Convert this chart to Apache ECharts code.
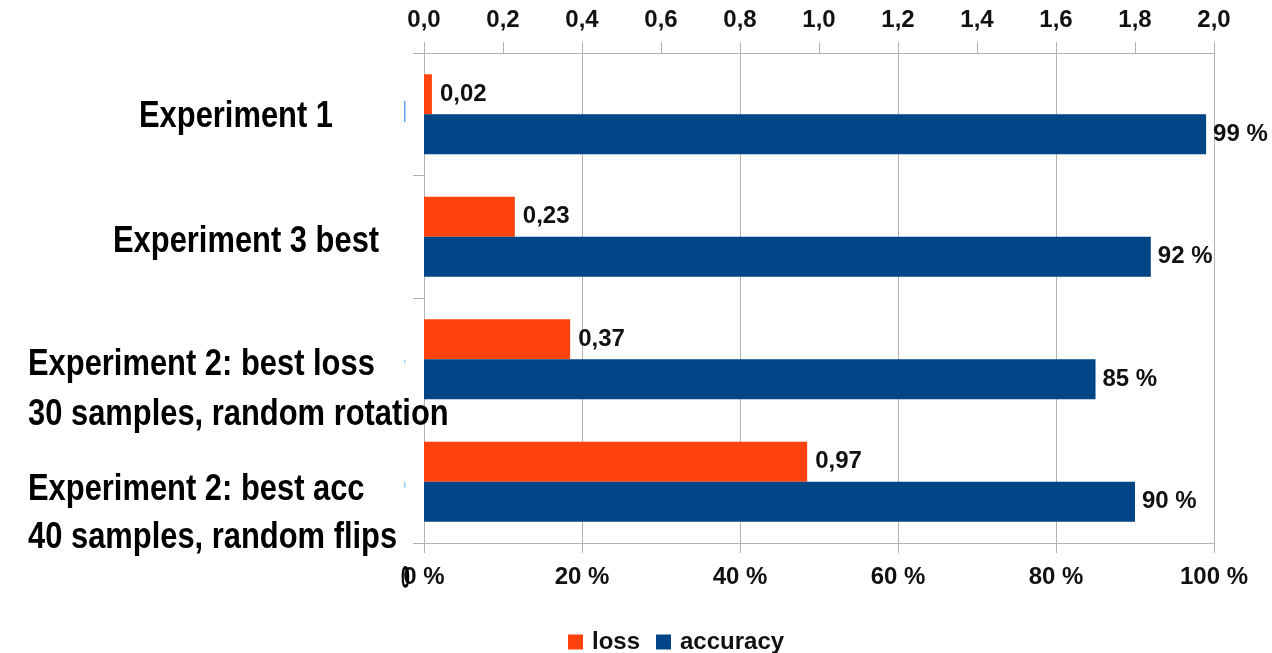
<!DOCTYPE html>
<html>
<head>
<meta charset="utf-8">
<title>Experiments: loss and accuracy</title>
<script src="https://cdn.jsdelivr.net/npm/echarts@6/dist/echarts.min.js"></script>
<style>
  html, body { margin: 0; padding: 0; background: #ffffff; }
  #chart { width: 1272px; height: 653px; }
</style>
</head>
<body>
<div id="chart"></div>
<script>
// Experiments, listed top to bottom
const categories = [
  'Experiment 1',
  'Experiment 3 best',
  'Experiment 2: best loss\n30 samples, random rotation',
  'Experiment 2: best acc\n40 samples, random flips'
];
// Final loss per experiment (top axis, 0..2)
const lossValues = [0.02, 0.23, 0.37, 0.97];
// Accuracy per experiment in percent (bottom axis, 0..100)
const accuracyValues = [99, 92, 85, 90];
const seriesNames = ['loss', 'accuracy'];

const LOSS_COLOR = '#ff420e';
const ACC_COLOR = '#004586';
const GRID_GRAY = '#b3b3b3';
const TEXT = '#111111';
const SANS = '"Liberation Sans", Arial, sans-serif';
// no condensed face installed: squeeze the regular bold one horizontally
const CAPTION_FONT = 'bold 37px "Liberation Sans", Arial, sans-serif';
const CAPTION_SQUEEZE = 0.835;

const comma = (v, d) => v.toFixed(d).replace('.', ',');

// Category captions sit to the left of the plot, each line placed by hand
const captionSpots = [
  { x: 139, y: [117] },
  { x: 113, y: [242] },
  { x: 28,  y: [365, 415] },
  { x: 28,  y: [490, 538] }
];
const captionGraphics = [];
categories.forEach((name, i) => {
  name.split('\n').forEach((line, j) => {
    captionGraphics.push({
      type: 'text',
      x: captionSpots[i].x,
      y: captionSpots[i].y[j],
      scaleX: CAPTION_SQUEEZE,
      z: 100,
      style: {
        text: line,
        font: CAPTION_FONT,
        fill: '#000000',
        textAlign: 'left',
        textVerticalAlign: 'middle'
      }
    });
  });
});

const chart = echarts.init(document.getElementById('chart'), null, { renderer: 'canvas' });

chart.setOption({
  animation: false,
  backgroundColor: '#ffffff',
  grid: { left: 424, right: 58, top: 53, bottom: 110, containLabel: false },
  legend: {
    data: seriesNames,
    left: 563,
    top: 625,
    itemWidth: 15,
    itemHeight: 15,
    itemGap: 16,
    icon: 'rect',
    textStyle: { fontFamily: SANS, fontWeight: 'bold', fontSize: 24, color: TEXT, padding: [0, 0, 0, 4] }
  },
  xAxis: [
    {
      type: 'value',
      position: 'top',
      min: 0,
      max: 2,
      interval: 0.2,
      axisLine: { show: true, lineStyle: { color: GRID_GRAY, width: 1 } },
      axisTick: { show: true, length: 11, lineStyle: { color: GRID_GRAY } },
      splitLine: { show: false },
      axisLabel: {
        margin: 21,
        fontFamily: SANS, fontWeight: 'bold', fontSize: 24, color: TEXT,
        formatter: v => comma(v, 1)
      }
    },
    {
      type: 'value',
      position: 'bottom',
      min: 0,
      max: 100,
      interval: 20,
      axisLine: { show: true, lineStyle: { color: GRID_GRAY, width: 1 } },
      axisTick: { show: true, length: 10, lineStyle: { color: GRID_GRAY } },
      splitLine: { show: true, lineStyle: { color: GRID_GRAY, width: 1 } },
      axisLabel: {
        margin: 22,
        fontFamily: SANS, fontWeight: 'bold', fontSize: 24, color: TEXT,
        formatter: v => v + ' %'
      }
    }
  ],
  yAxis: {
    type: 'category',
    data: categories,
    inverse: true,
    axisLine: { show: true, lineStyle: { color: GRID_GRAY } },
    axisTick: { show: true, length: 11, alignWithLabel: false, lineStyle: { color: GRID_GRAY } },
    axisLabel: { show: false },
    splitLine: { show: false }
  },
  series: [
    {
      name: seriesNames[0],
      type: 'bar',
      xAxisIndex: 0,
      data: lossValues,
      barWidth: 40,
      barGap: '0%',
      itemStyle: { color: LOSS_COLOR },
      label: {
        show: true, position: 'right', distance: 8,
        fontFamily: SANS, fontWeight: 'bold', fontSize: 24, color: TEXT,
        formatter: p => comma(p.value, 2)
      }
    },
    {
      name: seriesNames[1],
      type: 'bar',
      xAxisIndex: 1,
      data: accuracyValues,
      barWidth: 40,
      barGap: '0%',
      itemStyle: { color: ACC_COLOR },
      label: {
        show: true, position: 'right', distance: 7,
        fontFamily: SANS, fontWeight: 'bold', fontSize: 24, color: TEXT,
        formatter: p => p.value + ' %'
      }
    }
  ],
  graphic: captionGraphics.concat([
    // small stray marks left of the axis
    { type: 'rect', shape: { x: 404, y: 101, width: 1.5, height: 21 }, style: { fill: '#5aa9f0' }, z: 100 },
    { type: 'rect', shape: { x: 404, y: 360, width: 1.5, height: 3 }, style: { fill: '#9fd0f5' }, z: 100 },
    { type: 'rect', shape: { x: 404, y: 482, width: 1.5, height: 6 }, style: { fill: '#9fd0f5' }, z: 100 },
    // loose zero glyph over the first bottom tick label
    {
      type: 'text', x: 401, y: 579, scaleX: 0.5, z: 100,
      style: { text: '0', font: 'bold 32px "Liberation Sans", Arial, sans-serif', fill: '#000000', textAlign: 'left', textVerticalAlign: 'middle' }
    }
  ])
});
</script>
</body>
</html>
